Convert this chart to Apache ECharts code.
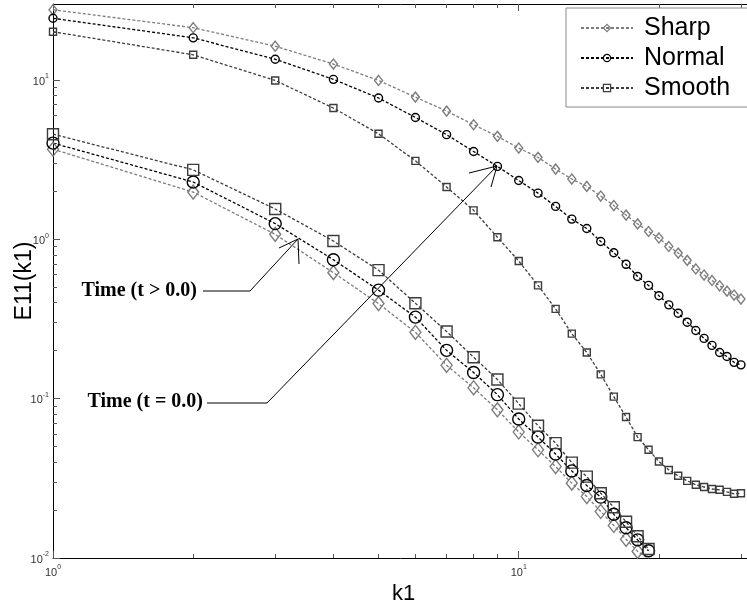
<!doctype html>
<html>
<head>
<meta charset="utf-8">
<title>E11(k1)</title>
<script src="https://cdn.jsdelivr.net/npm/echarts@6/dist/echarts.min.js"></script>
<style>
  html, body { margin: 0; padding: 0; background: #fff; }
  #chart { width: 747px; height: 606px; }
</style>
</head>
<body>
<div id="chart"></div>
<script>
// wavenumbers
var k1 = [1, 2, 3, 4, 5, 6, 7, 8, 9, 10, 11, 12, 13, 14, 15, 16, 17, 18, 19, 20,
          21, 22, 23, 24, 25, 26, 27, 28, 29, 30];

// t = 0.0 (upper group)
var sharp0 = [27.6, 21.3, 16.3, 12.6, 9.94, 7.81, 6.38, 5.24, 4.43, 3.74, 3.27, 2.76, 2.39, 2.15, 1.87,
              1.63, 1.42, 1.25, 1.12, 1.02, 0.902, 0.82, 0.738, 0.652, 0.597, 0.552, 0.511, 0.473, 0.447, 0.422];
var normal0 = [24.4, 18.4, 13.5, 10.1, 7.71, 5.82, 4.54, 3.56, 2.87, 2.34, 1.95, 1.61, 1.34, 1.17, 0.97,
               0.824, 0.697, 0.585, 0.514, 0.443, 0.388, 0.344, 0.302, 0.268, 0.239, 0.216, 0.195, 0.184, 0.169, 0.163];
var smooth0 = [20.1, 14.4, 9.94, 6.67, 4.6, 3.11, 2.13, 1.52, 1.03, 0.731, 0.514, 0.366, 0.256, 0.195, 0.142,
               0.103, 0.0767, 0.0574, 0.0478, 0.0403, 0.0357, 0.0328, 0.0305, 0.0288, 0.0279, 0.0271, 0.0268, 0.026, 0.0253, 0.0255];

// t > 0.0 (lower group)
var sharp1 = [3.68, 1.98, 1.075, 0.618, 0.395, 0.261, 0.162, 0.117, 0.0851, 0.0618, 0.0478, 0.0375, 0.0295,
              0.0243, 0.0196, 0.016, 0.0131, 0.011, 0.0099];
var normal1 = [4.02, 2.29, 1.255, 0.745, 0.48, 0.325, 0.201, 0.146, 0.106, 0.0745, 0.0574, 0.0449, 0.0352,
               0.0285, 0.0241, 0.0188, 0.0155, 0.013, 0.0111];
var smooth1 = [4.57, 2.73, 1.55, 0.976, 0.641, 0.397, 0.264, 0.182, 0.132, 0.0931, 0.0676, 0.0526, 0.0397,
               0.0324, 0.0255, 0.0208, 0.0169, 0.0137, 0.0114];

var xMajor = [1, 10];
var xMinor = [2, 3, 4, 5, 6, 7, 8, 9, 20, 30];
var yMajor = [0.01, 0.1, 1, 10];
var yMinor = [0.02, 0.03, 0.04, 0.05, 0.06, 0.07, 0.08, 0.09,
              0.2, 0.3, 0.4, 0.5, 0.6, 0.7, 0.8, 0.9,
              2, 3, 4, 5, 6, 7, 8, 9, 20];

var cSharp = '#7c7c7c', cNormal = '#000000', cSmooth = '#3c3c3c';

function pairs(vals) {
    return vals.map(function (v, i) { return [k1[i], v]; });
}

function powLabel(v) {
    var e = Math.round(Math.log(v) / Math.LN10);
    return '{b|10}{e|' + e + '}';
}
var powRich = {
    b: { fontSize: 11, color: '#333', fontFamily: 'Liberation Sans', verticalAlign: 'bottom', lineHeight: 14 },
    e: { fontSize: 7, color: '#333', fontFamily: 'Liberation Sans', verticalAlign: 'top', lineHeight: 14 }
};

function line(name, vals, symbol, size, color) {
    return {
        name: name,
        type: 'line',
        data: pairs(vals),
        symbol: symbol,
        symbolSize: size,
        showAllSymbol: true,
        lineStyle: { color: color, width: 1.3, type: [3, 2] },
        itemStyle: { color: 'rgba(255,255,255,0)', borderColor: color, borderWidth: 1.4 },
        emphasis: { disabled: true },
        z: 3
    };
}

function xAx(pos, ticks, len, labels) {
    return {
        type: 'log', logBase: 10, min: 1, max: 32, position: pos,
        axisLine: { show: labels !== null, lineStyle: { color: '#000', width: 1 } },
        axisTick: { show: true, inside: true, length: len, customValues: ticks, lineStyle: { color: '#555' } },
        axisLabel: labels ? { show: true, customValues: xMajor, formatter: powLabel, rich: powRich, margin: 6 } : { show: false },
        splitLine: { show: false }, minorTick: { show: false }
    };
}

function yAx(ticks, len, labels) {
    return {
        type: 'log', logBase: 10, min: 0.01, max: 30, position: 'left',
        axisLine: { show: labels, lineStyle: { color: '#000', width: 1 } },
        axisTick: { show: true, inside: true, length: len, customValues: ticks, lineStyle: { color: '#555' } },
        axisLabel: labels ? { show: true, customValues: yMajor, formatter: powLabel, rich: powRich, margin: 4 } : { show: false },
        splitLine: { show: false }, minorTick: { show: false }
    };
}

var chart = echarts.init(document.getElementById('chart'), null, { renderer: 'canvas' });

var xMain = xAx('bottom', xMajor, 7, true);
xMain.name = 'k1';
xMain.nameLocation = 'middle';
xMain.nameGap = 21;
xMain.nameTextStyle = { fontSize: 22, fontFamily: 'Liberation Sans', color: '#000' };
var xTop = xAx('top', xMajor, 7, false);
xTop.axisLine = { show: true, lineStyle: { color: '#000', width: 1 } };

var yMain = yAx(yMajor, 7, true);
yMain.name = 'E11(k1)';
yMain.nameLocation = 'middle';
yMain.nameGap = 17;
yMain.nameMoveOverlap = false;
yMain.nameTextStyle = { fontSize: 23, fontFamily: 'Liberation Sans', color: '#000' };

var option = {
    animation: false,
    backgroundColor: '#fff',
    grid: { left: 53, top: 4, width: 701, height: 554, containLabel: false, outerBoundsMode: 'none' },
    xAxis: [xMain, xAx('bottom', xMinor, 4, null), xTop, xAx('top', xMinor, 4, null)],
    yAxis: [yMain, yAx(yMinor, 4, false)],
    legend: {
        orient: 'vertical',
        left: 566, top: 8,
        padding: [7, 60, 6, 14],
        itemGap: 4,
        itemWidth: 52, itemHeight: 9,
        borderColor: '#888', borderWidth: 1,
        backgroundColor: '#fff',
        data: ['Sharp', 'Normal', 'Smooth'],
        itemStyle: { color: 'rgba(255,255,255,0)', borderWidth: 1.2 },
        textStyle: { fontSize: 25, fontFamily: 'Liberation Sans', color: '#000', lineHeight: 26, padding: [0, 0, 0, 6] },
        z: 10
    },
    series: [
        line('Sharp', sharp0, 'diamond', [8, 10], cSharp),
        line('Normal', normal0, 'circle', 8, cNormal),
        line('Smooth', smooth0, 'rect', 7, cSmooth),
        line('Sharp', sharp1, 'diamond', [11, 14], cSharp),
        line('Normal', normal1, 'circle', 12, cNormal),
        line('Smooth', smooth1, 'rect', 11, cSmooth)
    ],
    graphic: [
        { type: 'text', x: 197, y: 291, z: 100,
          style: { text: 'Time (t > 0.0)', font: 'bold 20px "Liberation Serif"', fill: '#000', align: 'right', verticalAlign: 'middle' } },
        { type: 'polyline', z: 100, shape: { points: [[203, 291], [250, 291], [298, 239]] },
          style: { stroke: '#000', lineWidth: 1, fill: null } },
        { type: 'polyline', z: 100, shape: { points: [[279, 248], [298, 239], [299, 264]] },
          style: { stroke: '#000', lineWidth: 1, fill: null } },
        { type: 'text', x: 203, y: 402, z: 100,
          style: { text: 'Time (t = 0.0)', font: 'bold 20px "Liberation Serif"', fill: '#000', align: 'right', verticalAlign: 'middle' } },
        { type: 'polyline', z: 100, shape: { points: [[207, 403], [267, 403], [497, 166]] },
          style: { stroke: '#000', lineWidth: 1, fill: null } },
        { type: 'polyline', z: 100, shape: { points: [[469, 173], [497, 166], [491, 187]] },
          style: { stroke: '#000', lineWidth: 1, fill: null } }
    ]
};

chart.setOption(option);
</script>
</body>
</html>
